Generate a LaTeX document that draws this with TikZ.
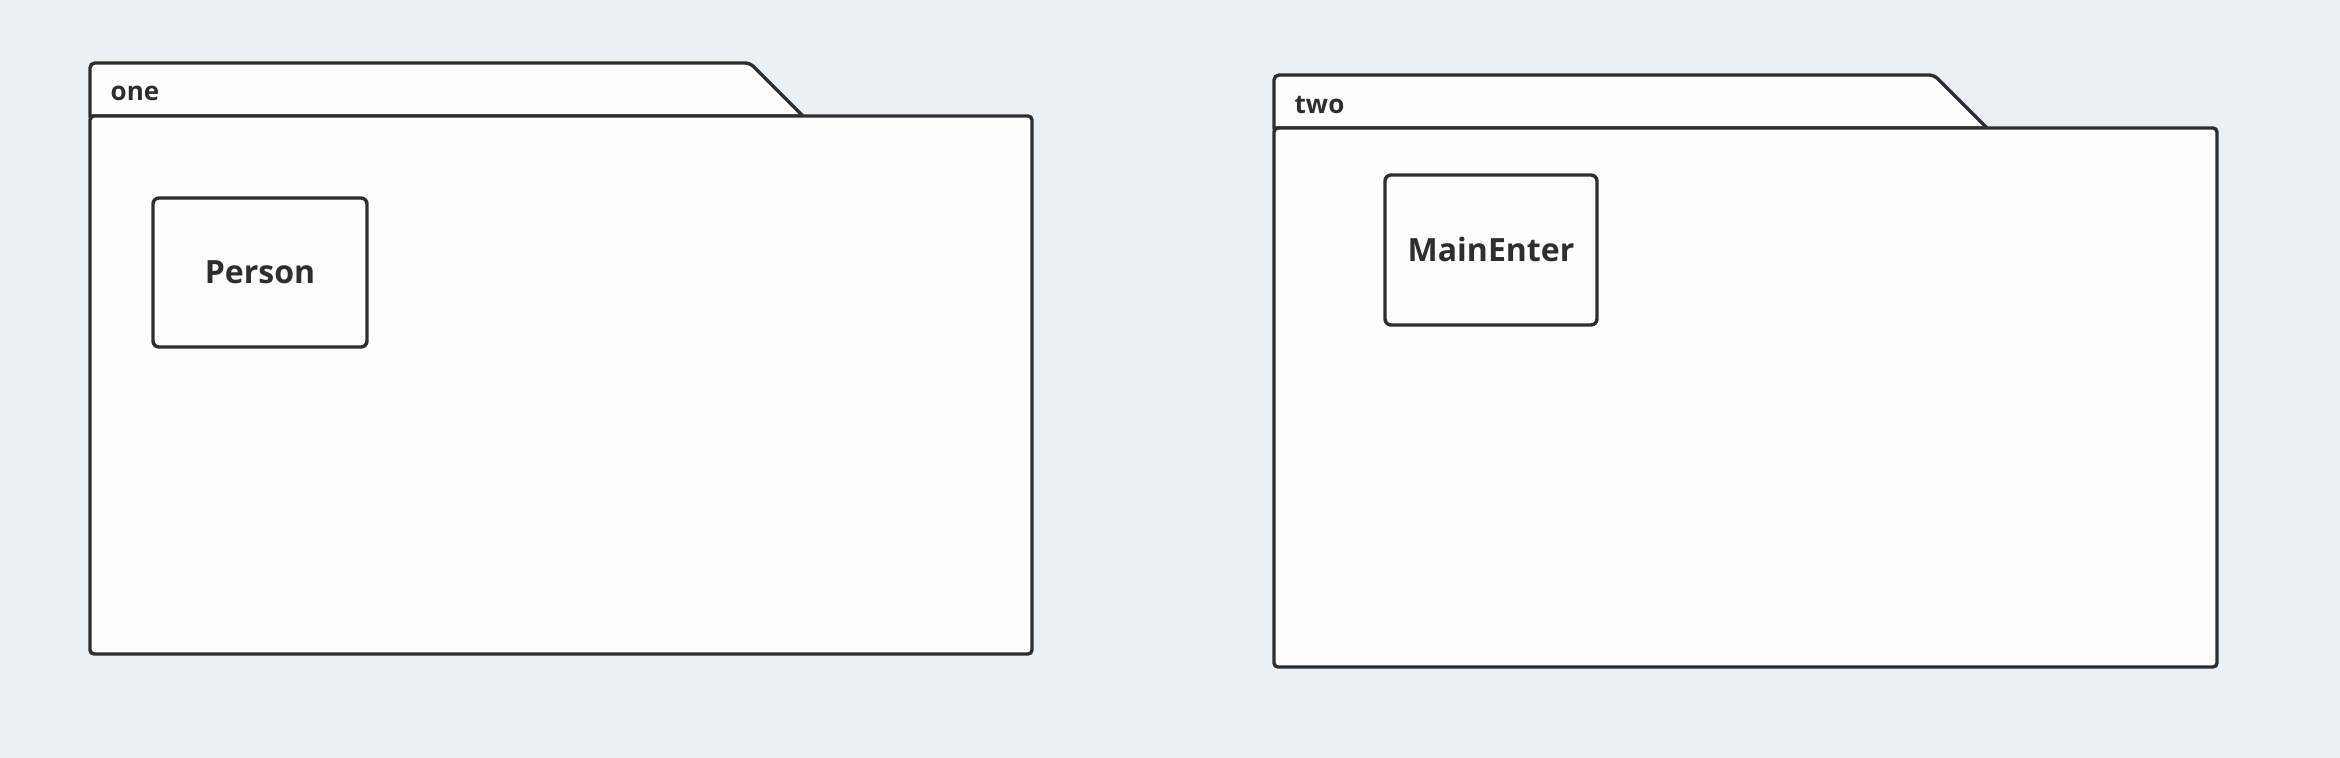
\documentclass[tikz,border=0pt]{standalone}
\usepackage{fontspec}
\setmainfont{Open Sans}
\usepackage{tikz}

\definecolor{canvas}{HTML}{EBF0F7}
\definecolor{sheet}{HTML}{FDFDFD}
\definecolor{ink}{HTML}{2E2E2E}

\tikzset{
    pkgbody/.style={draw=ink, fill=sheet, line width=1.7pt, rounded corners=2pt, inner sep=0pt},
    pkgtab/.style={draw=ink, fill=sheet, line width=1.7pt},
    pkgname/.style={anchor=west, inner sep=0pt, text=ink, font=\fontsize{13}{15}\selectfont\bfseries},
    classbox/.style={draw=ink, fill=sheet, line width=1.7pt, rounded corners=3pt, inner sep=0pt,
        text=ink, font=\fontsize{16}{18}\selectfont\bfseries}
}

\begin{document}
\begin{tikzpicture}[x=0.5pt, y=-0.5pt]
            \useasboundingbox[fill=canvas] (0,0) rectangle (2340,758);
            % Packages
            \foreach \name/\l/\t/\r/\b/\tabx in {one/90/116/1032/654/750,two/1274/128/2217/667/1934} {
                \draw[pkgtab] (\l,\t) {[rounded corners=2.5pt] -- (\l,\t-53) -- (\tabx,\t-53)} -- (\tabx+53,\t) -- cycle;
                \node[pkgbody, minimum width={(\r-\l)*0.5pt}, minimum height={(\b-\t)*0.5pt}]
                    (\name) at ({(\l+\r)/2},{(\t+\b)/2}) {};
                \node[pkgname] (\name-label) at ([xshift=11pt, yshift=10.5pt]\name.north west) {\name};
            }
            % Classes
            \node[classbox, minimum width=107pt, minimum height=74.5pt] (Person) at (260,272.5) {Person};
            \node[classbox, minimum width=106pt, minimum height=75pt] (MainEnter) at (1491,250) {MainEnter};
        \end{tikzpicture}
\end{document}
